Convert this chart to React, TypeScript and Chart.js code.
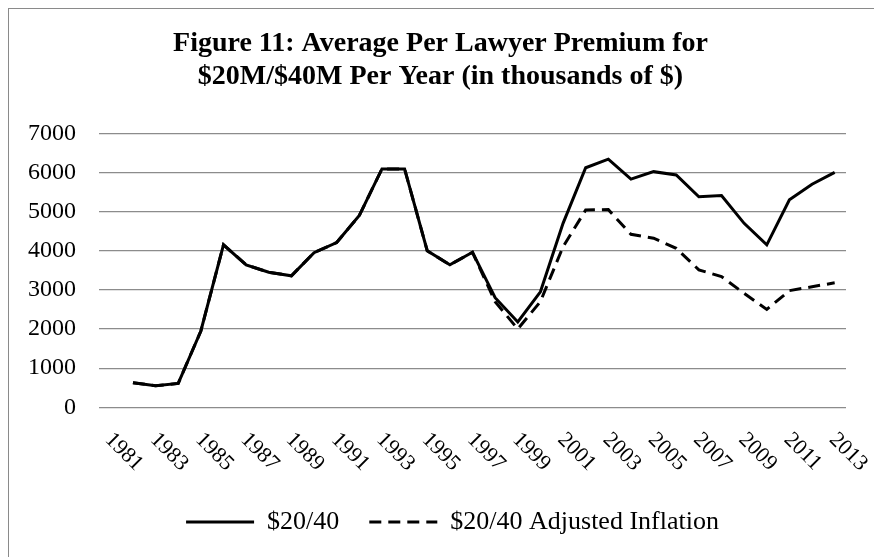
import React, { useEffect, useRef } from "react";
import { Chart, registerables } from "chart.js";

Chart.register(...registerables);

const years: string[] = [
  "1981", "1982", "1983", "1984", "1985", "1986", "1987", "1988", "1989", "1990",
  "1991", "1992", "1993", "1994", "1995", "1996", "1997", "1998", "1999", "2000",
  "2001", "2002", "2003", "2004", "2005", "2006", "2007", "2008", "2009", "2010",
  "2011", "2012", "2013",
];

const premium: (number | null)[] = [
  null, 630, 550, 610, 1950, 4150, 3640, 3450, 3360, 3950,
  4210, 4900, 6090, 6090, 4000, 3640, 3960, 2800, 2180, 2950,
  4700, 6120, 6340, 5830, 6020, 5935, 5380, 5410, 4700, 4150,
  5300, 5700, 6000,
];

const adjusted: (number | null)[] = [
  null, 630, 550, 610, 1950, 4150, 3640, 3450, 3360, 3950,
  4210, 4900, 6090, 6090, 4000, 3640, 3960, 2700, 2000, 2700,
  4100, 5040, 5050, 4420, 4320, 4060, 3510, 3340, 2910, 2500,
  2980, 3080, 3180,
];

const xTickLabels: string[] = years.filter((_, i) => i % 2 === 0);
const seriesNames: string[] = ["$20/40", "$20/40 Adjusted Inflation"];
const titleLines: string[] = [
  "Figure 11: Average Per Lawyer Premium for",
  "$20M/$40M Per Year (in thousands of $)",
];
const yMin = 0;
const yMax = 7000;
const yStep = 1000;

const FONT = '"Liberation Serif", "Times New Roman", serif';
const DASH = [12, 7];

const xLabelPlugin = {
  id: "rotatedXLabels",
  afterLayout(chart: any) {
    if (chart.titleBlock) {
      chart.titleBlock.left += 13;
      chart.titleBlock.right += 13;
    }
    if (chart.legend) {
      chart.legend.left += 25;
      chart.legend.right += 25;
    }
  },
  afterDraw(chart: any) {
    const { ctx, chartArea, scales } = chart;
    const x = scales.x;
    ctx.save();
    ctx.font = `22px ${FONT}`;
    ctx.fillStyle = "#000";
    ctx.textAlign = "left";
    ctx.textBaseline = "middle";
    xTickLabels.forEach((lab) => {
      const idx = years.indexOf(lab);
      const px = x.getPixelForValue(idx);
      ctx.save();
      ctx.translate(px - 2, chartArea.bottom + 29);
      ctx.rotate(Math.PI / 4);
      ctx.fillText(lab, 0, 0);
      ctx.restore();
    });
    ctx.restore();
  },
};

export default function App() {
  const ref = useRef<HTMLCanvasElement | null>(null);

  useEffect(() => {
    if (!ref.current) return;
    const chart = new Chart(ref.current, {
      type: "line",
      data: {
        labels: years,
        datasets: [
          {
            label: seriesNames[0],
            data: premium,
            borderColor: "#000",
            backgroundColor: "#000",
            borderWidth: 3,
            pointRadius: 0,
            tension: 0,
            fill: false,
          },
          {
            label: seriesNames[1],
            data: adjusted,
            borderColor: "#000",
            backgroundColor: "#000",
            borderWidth: 3,
            borderDash: DASH,
            pointRadius: 0,
            tension: 0,
            fill: false,
          },
        ],
      },
      options: {
        animation: false,
        responsive: false,
        maintainAspectRatio: false,
        layout: { padding: { left: 0, right: 36, top: 0, bottom: 12 } },
        plugins: {
          tooltip: { enabled: false },
          title: {
            display: true,
            text: titleLines,
            color: "#000",
            font: { family: FONT, size: 28, weight: "bold", lineHeight: 33 / 28 },
            padding: { top: 18.5, bottom: 39.8 },
          },
          legend: {
            position: "bottom",
            labels: {
              usePointStyle: true,
              pointStyle: "line",
              pointStyleWidth: 68,
              color: "#000",
              font: { family: FONT, size: 26 },
              padding: 30,
              generateLabels: (chart: any) => {
                const items = Chart.defaults.plugins.legend.labels.generateLabels(chart);
                items.forEach((it: any, i: number) => {
                  const ds: any = chart.data.datasets[i];
                  it.lineDash = ds.borderDash || [];
                  it.lineWidth = 3;
                  it.strokeStyle = "#000";
                  it.pointStyle = "line";
                });
                return items;
              },
            },
          },
        },
        scales: {
          x: {
            type: "category",
            offset: true,
            grid: { display: false },
            border: { display: false },
            ticks: { display: false },
            afterFit: (s: any) => {
              s.height = 71.7;
            },
          },
          y: {
            min: yMin,
            max: yMax,
            ticks: {
              stepSize: yStep,
              color: "#000",
              padding: 23,
              font: { family: FONT, size: 24 },
              callback: (v: any) => String(v),
            },
            grid: { color: "#8c8c8c", lineWidth: 1.2, drawTicks: false },
            border: { display: false },
            afterFit: (s: any) => {
              s.width = 90;
            },
          },
        },
      },
      plugins: [xLabelPlugin],
    });
    return () => chart.destroy();
  }, []);

  return (
    <div
      style={{
        width: 873,
        height: 548,
        borderLeft: "1px solid #8a8a8a",
        borderTop: "1px solid #8a8a8a",
        background: "#fff",
      }}
    >
      <canvas ref={ref} width={873} height={548} style={{ display: "block" }} />
    </div>
  );
}
